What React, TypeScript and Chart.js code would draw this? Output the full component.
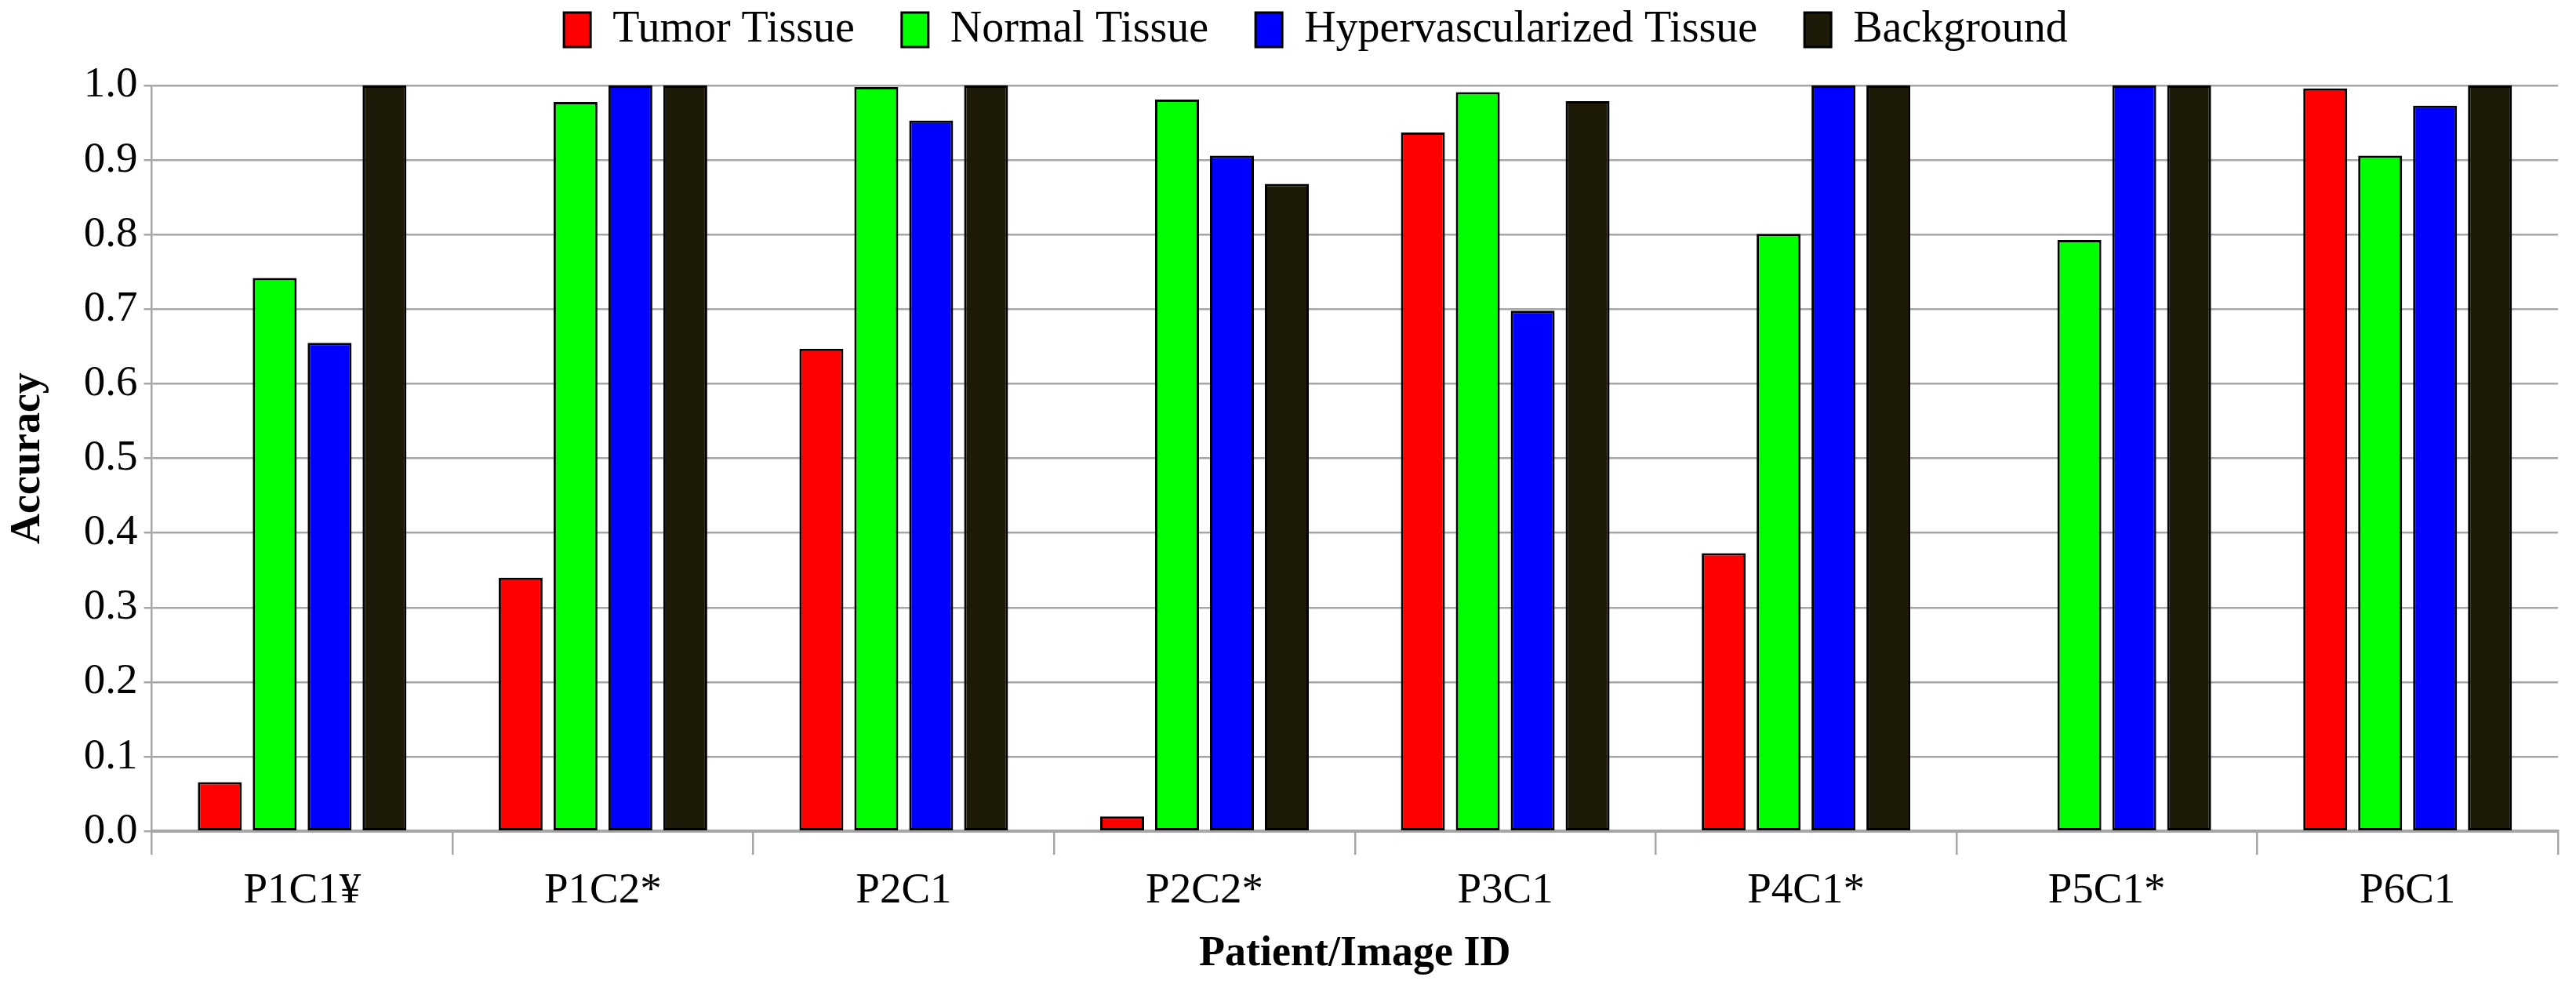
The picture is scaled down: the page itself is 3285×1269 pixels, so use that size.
import React, { useEffect, useRef } from "react";
import { Chart, registerables } from "chart.js";

Chart.register(...registerables);

const categories = ["P1C1¥", "P1C2*", "P2C1", "P2C2*", "P3C1", "P4C1*", "P5C1*", "P6C1"];
const seriesNames = ["Tumor Tissue", "Normal Tissue", "Hypervascularized Tissue", "Background"];
const tumorTissue = [0.066, 0.34, 0.647, 0.02, 0.937, 0.373, 0, 0.996];
const normalTissue = [0.742, 0.978, 0.998, 0.981, 0.991, 0.801, 0.793, 0.906];
const hyperTissue = [0.655, 1.0, 0.953, 0.906, 0.698, 1.0, 1.0, 0.973];
const background = [1.0, 1.0, 1.0, 0.868, 0.979, 1.0, 1.0, 1.0];
const yMin = 0;
const yMax = 1;
const yStep = 0.1;

const colors = ["#ff0000", "#00ff00", "#0000ff", "#1d1a08"];
const FONT = "'Liberation Serif', 'Times New Roman', serif";
const GRID = "#a6a6a6";

const legendTweak = {
  id: "legendTweak",
  afterInit(chart: any) {
    const lg = chart.legend;
    if (!lg) return;
    const f = lg.fit.bind(lg);
    lg.fit = function () {
      f();
      this.height = 159;
    };
  },
  afterLayout(chart: any) {
    const lg = chart.legend;
    if (!lg) return;
    const dx = 1678 - (lg.left + lg.right) / 2;
    lg.left += dx;
    lg.right += dx;
  },
};

export default function App() {
  const ref = useRef<HTMLCanvasElement | null>(null);

  useEffect(() => {
    if (!ref.current) return;
    const allSeries = [tumorTissue, normalTissue, hyperTissue, background];
    const chart = new Chart(ref.current, {
      type: "bar",
      data: {
        labels: categories,
        datasets: allSeries.map((d, i) => ({
          label: seriesNames[i],
          data: d,
          backgroundColor: colors[i],
          borderColor: "#000000",
          borderWidth: (c: any) => (c.raw === 0 ? 0 : 3),
          borderSkipped: false,
          categoryPercentage: 0.73,
          barPercentage: 0.8,
        })),
      },
      options: {
        animation: false,
        responsive: true,
        maintainAspectRatio: false,
        layout: { padding: { top: -50, left: 0, right: 23, bottom: 16 } },
        plugins: {
          tooltip: { enabled: false },
          legend: {
            position: "top",
            labels: {
              font: { family: FONT, size: 56 },
              color: "#000",
              boxWidth: 34,
              boxHeight: 44,
              padding: 60,
            },
          },
        },
        scales: {
          x: {
            grid: {
              offset: true,
              drawOnChartArea: false,
              drawTicks: true,
              tickLength: 30,
              color: GRID,
              lineWidth: 2.5,
            },
            border: { display: true, color: GRID, width: 4 },
            ticks: {
              font: { family: FONT, size: 55, lineHeight: 1.0 },
              color: "#000",
              padding: 19,
              maxRotation: 0,
            },
            title: {
              display: true,
              text: "Patient/Image ID",
              font: { family: FONT, size: 54, weight: "bold" },
              color: "#000",
              padding: { top: 1, bottom: 4 },
            },
          },
          y: {
            min: yMin,
            max: yMax,
            grid: { color: GRID, lineWidth: 2.5, tickLength: 10 },
            border: { display: true, color: GRID, width: 2.5 },
            ticks: {
              stepSize: yStep,
              font: { family: FONT, size: 55 },
              color: "#000",
              padding: 8,
              callback: (v: any) => Number(v).toFixed(1),
            },
            title: {
              display: true,
              text: "Accuracy",
              font: { family: FONT, size: 54, weight: "bold" },
              color: "#000",
              padding: { top: 4, bottom: 30 },
            },
          },
        },
      },
      plugins: [legendTweak],
    } as any);
    return () => chart.destroy();
  }, []);

  return (
    <div
      style={{
        position: "fixed",
        left: 0,
        top: 0,
        width: "3285px",
        height: "1269px",
        background: "#fff",
      }}
    >
      <canvas ref={ref} />
    </div>
  );
}
